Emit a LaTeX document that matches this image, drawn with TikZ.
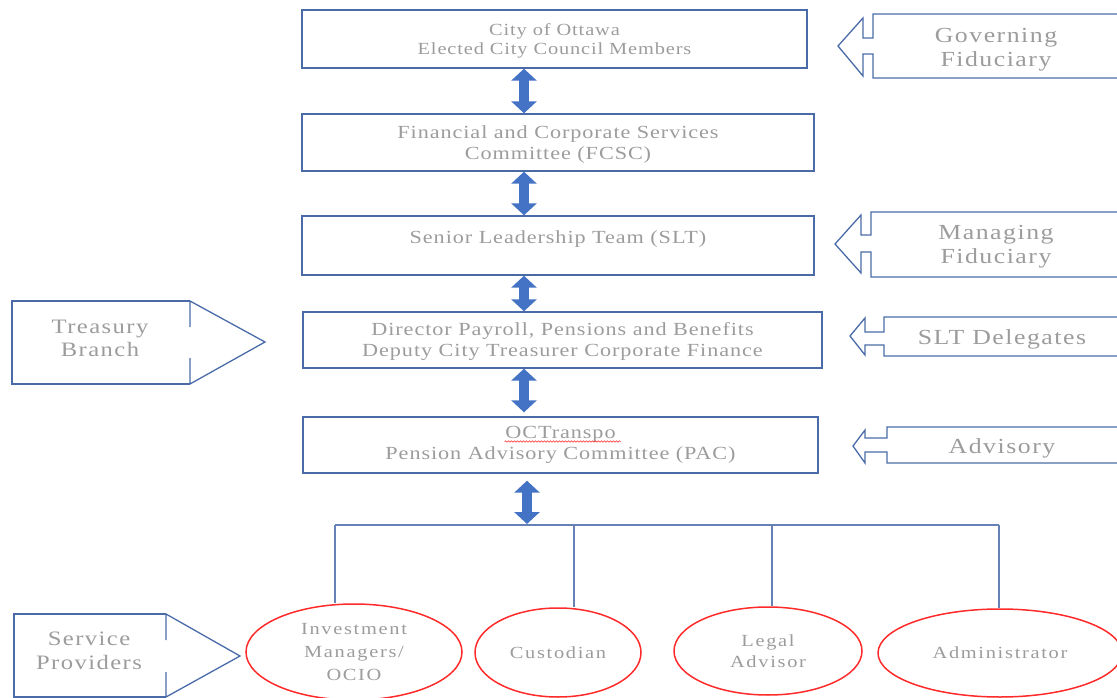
\documentclass[tikz,border=0pt]{standalone}
\usepackage{fontspec}
\setmainfont{Liberation Serif}[FakeStretch=1.2, LetterSpace=5]
\newfontfamily\tagfont{Liberation Serif}[FakeStretch=1.2, LetterSpace=7]
\newfontfamily\ovalfont{Liberation Serif}[FakeStretch=1.2, LetterSpace=10]
\usetikzlibrary{positioning, shapes.geometric, arrows.meta, decorations.pathmorphing}

\definecolor{lineblue}{HTML}{4A6BA8}
\definecolor{arrowblue}{HTML}{4472C4}
\definecolor{txtgray}{HTML}{9C9C9C}
\definecolor{ovalred}{HTML}{FF2A2A}

\begin{document}
\begin{tikzpicture}[
  x=1pt, y=-1pt,
  level/.style={rectangle, draw=lineblue, line width=1.4pt, text=txtgray, align=center, inner sep=0pt, font=\fontsize{18.5}{21}\selectfont},
  provider/.style={ellipse, draw=ovalred, line width=1.5pt, text=txtgray, align=center, inner sep=0pt, font=\ovalfont\fontsize{17}{23}\selectfont},
  tag/.style={text=txtgray, align=center, inner sep=0pt, font=\tagfont\fontsize{21.5}{24}\selectfont},
  tagline/.style={draw=lineblue, line width=1.3pt, line join=miter},
  dblarrow/.style={draw=arrowblue, line width=10pt, {Triangle[length=12pt, width=25pt]}-{Triangle[length=12pt, width=25pt]}},
  busline/.style={draw=lineblue!85, line width=1.2pt},
]
\useasboundingbox (0,0) rectangle (1117,698);
\clip (0,0) rectangle (1117,698);

%%% Levels
\node[level, minimum width=505pt, minimum height=58pt, font=\fontsize{17}{19}\selectfont, text depth=-2pt] (council) at (554.5,39) {City of Ottawa\\Elected City Council Members};
\node[level, minimum width=512pt, minimum height=57pt, text depth=0.5pt] (fcsc) at (558,142.5) {Financial and Corporate Services\\Committee (FCSC)};
\node[level, minimum width=512pt, minimum height=59pt, text height=13pt, text depth=18pt] (slt) at (558,245.5) {Senior Leadership Team (SLT)};
\node[level, minimum width=519pt, minimum height=56pt, text depth=0.5pt] (director) at (562.5,340) {Director Payroll, Pensions and Benefits\\Deputy City Treasurer Corporate Finance};
\node[level, minimum width=515pt, minimum height=56pt] (pac) at (560.5,445) {OCTranspo\\Pension Advisory Committee (PAC)};
\draw[ovalred, line width=0.6pt, decorate, decoration={snake, amplitude=0.7pt, segment length=3pt}]
  ([shift={(-56,-3.5)}]pac.center) -- ([shift={(60,-3.5)}]pac.center);

%%% Providers
\node[provider, minimum width=216pt, minimum height=96pt, text depth=-4pt] (invest) at (354,652) {Investment\\Managers/\\OCIO};
\node[provider, minimum width=166pt, minimum height=89pt] (custodian) at (558,652.5) {Custodian};
\node[provider, minimum width=188pt, minimum height=88pt, font=\ovalfont\fontsize{17}{21}\selectfont, text depth=-3pt] (legal) at (768,651) {Legal\\Advisor};
\node[provider, minimum width=244pt, minimum height=88pt] (admin) at (1000,653) {Administrator};

%%% Arrows between levels
\coordinate (ax) at (524,0);
\coordinate (bx) at (527,524);
\draw[dblarrow] (council.south -| ax) -- (fcsc.north -| ax);
\draw[dblarrow] (fcsc.south -| ax) -- (slt.north -| ax);
\draw[dblarrow] (slt.south -| ax) -- (director.north -| ax);
\draw[dblarrow, shorten >=4pt] (director.south -| ax) -- (pac.north -| ax);

%%% Bus to providers
\coordinate (busL) at (335,525);
\coordinate (busR) at (999,525);
\coordinate (drop2) at (574,525);
\coordinate (drop3) at (772,525);
\draw[busline] (busL) -- (busR);
\draw[busline] (busL) -- (busL |- invest.north);
\draw[busline] (drop2) -- (drop2 |- custodian.north);
\draw[busline] (drop3) -- (drop3 |- legal.north);
\draw[busline] (busR) -- (busR |- admin.north);
\draw[dblarrow, shorten <=7pt] (pac.south -| bx) -- (bx);

%%% Callouts, right side
\draw[tagline] (1125,14) -- (873,14) -- (873,38) -- (863,38) -- (863,18) -- (838,46) -- (863,76) -- (863,54) -- (873,54) -- (873,78) -- (1125,78);
\draw[tagline] (1125,212) -- (871,212) -- (871,235) -- (861,235) -- (861,215) -- (835,244) -- (861,273) -- (861,252) -- (871,252) -- (871,277) -- (1125,277);
\draw[tagline] (1125,317) -- (884,317) -- (884,332) -- (865,332) -- (865,318) -- (850,336) -- (865,355) -- (865,345) -- (884,345) -- (884,356) -- (1125,356);
\draw[tagline] (1125,427) -- (887,427) -- (887,438) -- (865,438) -- (865,430) -- (853,446) -- (865,463) -- (865,452) -- (887,452) -- (887,463) -- (1125,463);
\node[tag] (governing) at (996,50) {Governing\\Fiduciary};
\node[tag] (managing) at (996,247) {Managing\\Fiduciary};
\node[tag] (delegates) at (1002,339) {SLT Delegates};
\node[tag] (advisory) at (1002,448) {Advisory};

%%% Callouts, left side
\draw[tagline] (190,327) -- (190,301) -- (265,342) -- (190,384) -- (190,358);
\draw[tagline] (190,301) -- (12,301) -- (12,384) -- (190,384);
\draw[tagline] (166,640) -- (166,614) -- (240,656) -- (166,697) -- (166,672);
\draw[tagline] (166,614) -- (14,614) -- (14,697) -- (166,697);
\node[tag, font=\tagfont\fontsize{20.5}{23}\selectfont] (treasury) at (100,338) {Treasury\\Branch};
\node[tag, font=\tagfont\fontsize{20.5}{24}\selectfont] (services) at (89,651) {Service\\Providers};

\end{tikzpicture}
\end{document}
